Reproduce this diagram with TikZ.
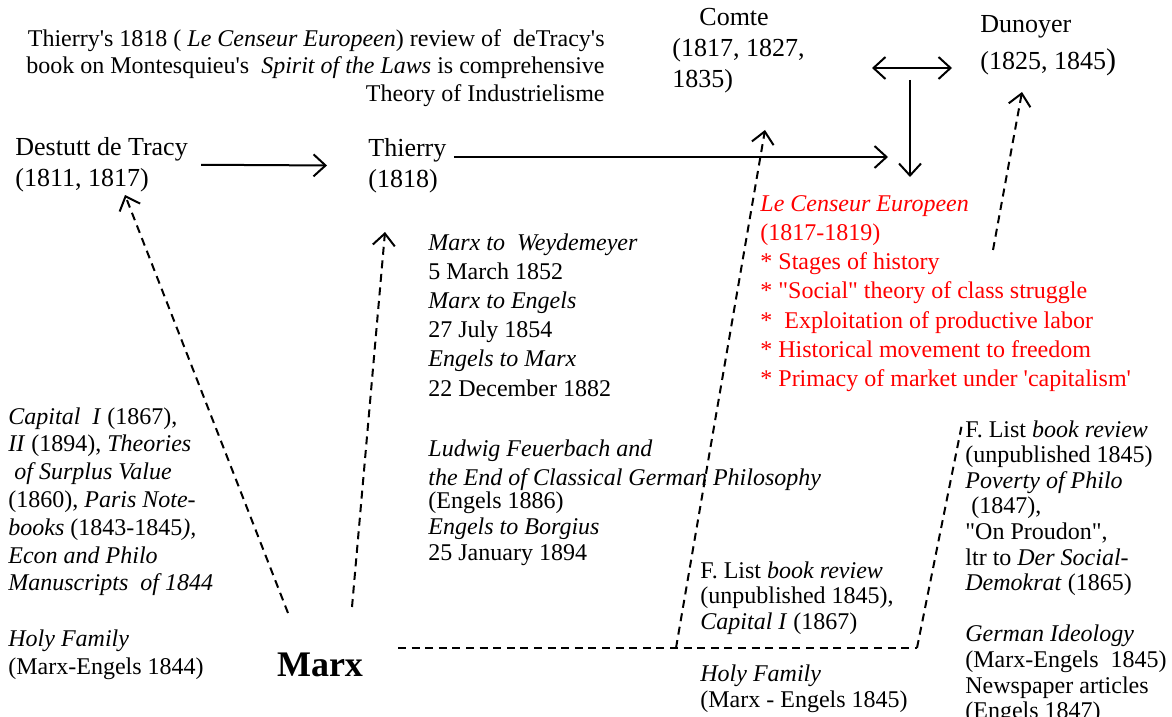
\documentclass[tikz,border=0pt]{standalone}
\usepackage{fontspec}
\setmainfont{Liberation Serif}[Ligatures=TeXOff]
\usepackage{xcolor}
\usepackage{tikz}
\usetikzlibrary{positioning, arrows.meta}
\tikzset{
  thinker/.style  = {anchor=north west, inner sep=0pt, align=left,
                     font=\fontsize{13}{15.5}\selectfont},
  headnote/.style = {anchor=north east, inner sep=0pt, align=right,
                     font=\fontsize{12}{13.7}\selectfont},
  worknote/.style = {anchor=north west, inner sep=0pt, align=left,
                     font=\fontsize{12}{#1}\selectfont},
  censeur/.style  = {anchor=north west, inner sep=0pt, align=left,
                     text=red, font=\fontsize{12}{14.6}\selectfont},
  marxbox/.style  = {inner sep=0pt, font=\fontsize{18}{20}\selectfont\bfseries},
  link/.style     = {line width=1pt, ->},
  trace/.style    = {line width=1pt, dash pattern=on 4pt off 2.8pt},
  tracearrow/.style = {trace, ->},
  >={Straight Barb[length=6pt,width=11pt]}
}

\begin{document}
\begin{tikzpicture}[x=0.5pt, y=-0.5pt]
  \useasboundingbox (0,0) rectangle (1172,717);

  % Header note
  \node[headnote] (review) at (605,29)
    {Thierry's 1818 ( \textit{Le Censeur Europeen}) review of\ \ deTracy's\\
     book on Montesquieu's\ \ \textit{Spirit of the Laws} is comprehensive\\
     Theory of Industrielisme};

  % Thinkers
  \node[thinker] (tracy) at (15,137) {Destutt de Tracy\\(1811, 1817)};
  \node[thinker] (thierry) at (368,138) {Thierry\\(1818)};
  \node[thinker] (comte) at (672,8) {\hspace{13.5pt}Comte\\(1817, 1827,\\1835)};
  \node[thinker] (dunoyer) at (980,15) {Dunoyer\\[3pt](1825, 1845{\fontsize{15}{15}\selectfont)}};
  \node[marxbox] (marx) at (320,665) {Marx};

  % Le Censeur Europeen
  \node[censeur] (journal) at (760,195)
    {\textit{Le Censeur Europeen}\\
     (1817-1819)\\
     * Stages of history\\
     * "Social" theory of class struggle\\
     *\ \ Exploitation of productive labor\\
     * Historical movement to freedom\\
     * Primacy of market under 'capitalism'};

  % Letters
  \node[worknote=14.6] (letters) at (428,233)
    {\textit{Marx to\ \ Weydemeyer}\\
     5 March 1852\\
     \textit{Marx to Engels}\\
     27 July 1854\\
     \textit{Engels to Marx}\\
     22 December 1882};
  \node[worknote=13] (feuerbach) at (428,439)
    {\textit{Ludwig Feuerbach and}\\[1.5pt]
     \textit{the End of Classical German Philosophy}\\[-1.5pt]
     (Engels 1886)\\
     \textit{Engels to Borgius}\\
     25 January 1894};

  % Works on the left
  \node[worknote=13.9] (capital) at (8,407)
    {\textit{Capital\ \ I} (1867),\\
     \textit{II} (1894), \textit{Theories}\\
     \textit{\ of Surplus Value}\\
     (1860), \textit{Paris Note-}\\
     \textit{books} (1843-1845\textit{),}\\
     \textit{Econ and Philo}\\
     \textit{Manuscripts\ \ of 1844}\\[13.9pt]
     \textit{Holy Family}\\
     (Marx-Engels 1844)};

  % Works at the bottom
  \node[worknote=12.9] (listmid) at (700,561)
    {F. List \textit{book review}\\
     (unpublished 1845),\\
     \textit{Capital I} (1867)\\[12.9pt]
     \textit{Holy Family}\\
     (Marx - Engels 1845)};
  \node[worknote=12.8] (listright) at (965,420)
    {F. List \textit{book review}\\
     (unpublished 1845)\\
     \textit{Poverty of Philo}\\
     \ (1847),\\
     "On Proudon",\\
     ltr to \textit{Der Social-}\\
     \textit{Demokrat} (1865)\\[12.8pt]
     \textit{German Ideology}\\
     (Marx-Engels\ \ 1845)\\
     Newspaper articles\\
     (Engels 1847)};

  % Free ends of the connectors
  \coordinate (tracy-in)    at (125,195);
  \coordinate (thierry-in)  at (385,232);
  \coordinate (comte-in)    at (765,130);
  \coordinate (dunoyer-in)  at (1022,92);
  \coordinate (journal-in)  at (888,157);
  \coordinate (comte-r)     at (872,68);
  \coordinate (dunoyer-l)   at (952,68);
  \coordinate (split)       at (910,80);
  \coordinate (journal-top) at (910,177);
  \coordinate (journal-out) at (993,250);
  \coordinate (marx-l)      at (288,613);
  \coordinate (marx-r)      at (352,607);
  \coordinate (marx-e)      at (398,648);
  \coordinate (fork-a)      at (676,648);
  \coordinate (fork-b)      at (917,648);
  \coordinate (list-in)     at (962,424);

  % Solid arrows
  \draw[link, shorten <=6.5pt, shorten >=20.5pt] (tracy.east) -- (thierry.west);
  \draw[link] ([xshift=3.5pt]thierry.east |- journal-in) -- (journal-in);
  \draw[link, <->] (comte-r) -- (dunoyer-l);
  \draw[link] (split) -- (journal-top);

  % Dashed traces
  \draw[tracearrow] (marx-l) -- (tracy-in);
  \draw[tracearrow] (marx-r) -- (thierry-in);
  \draw[trace] (marx-e) -- (fork-b);
  \draw[tracearrow] (fork-a) -- (comte-in);
  \draw[trace] (fork-b) -- (list-in);
  \draw[tracearrow] (journal-out) -- (dunoyer-in);
\end{tikzpicture}
\end{document}
